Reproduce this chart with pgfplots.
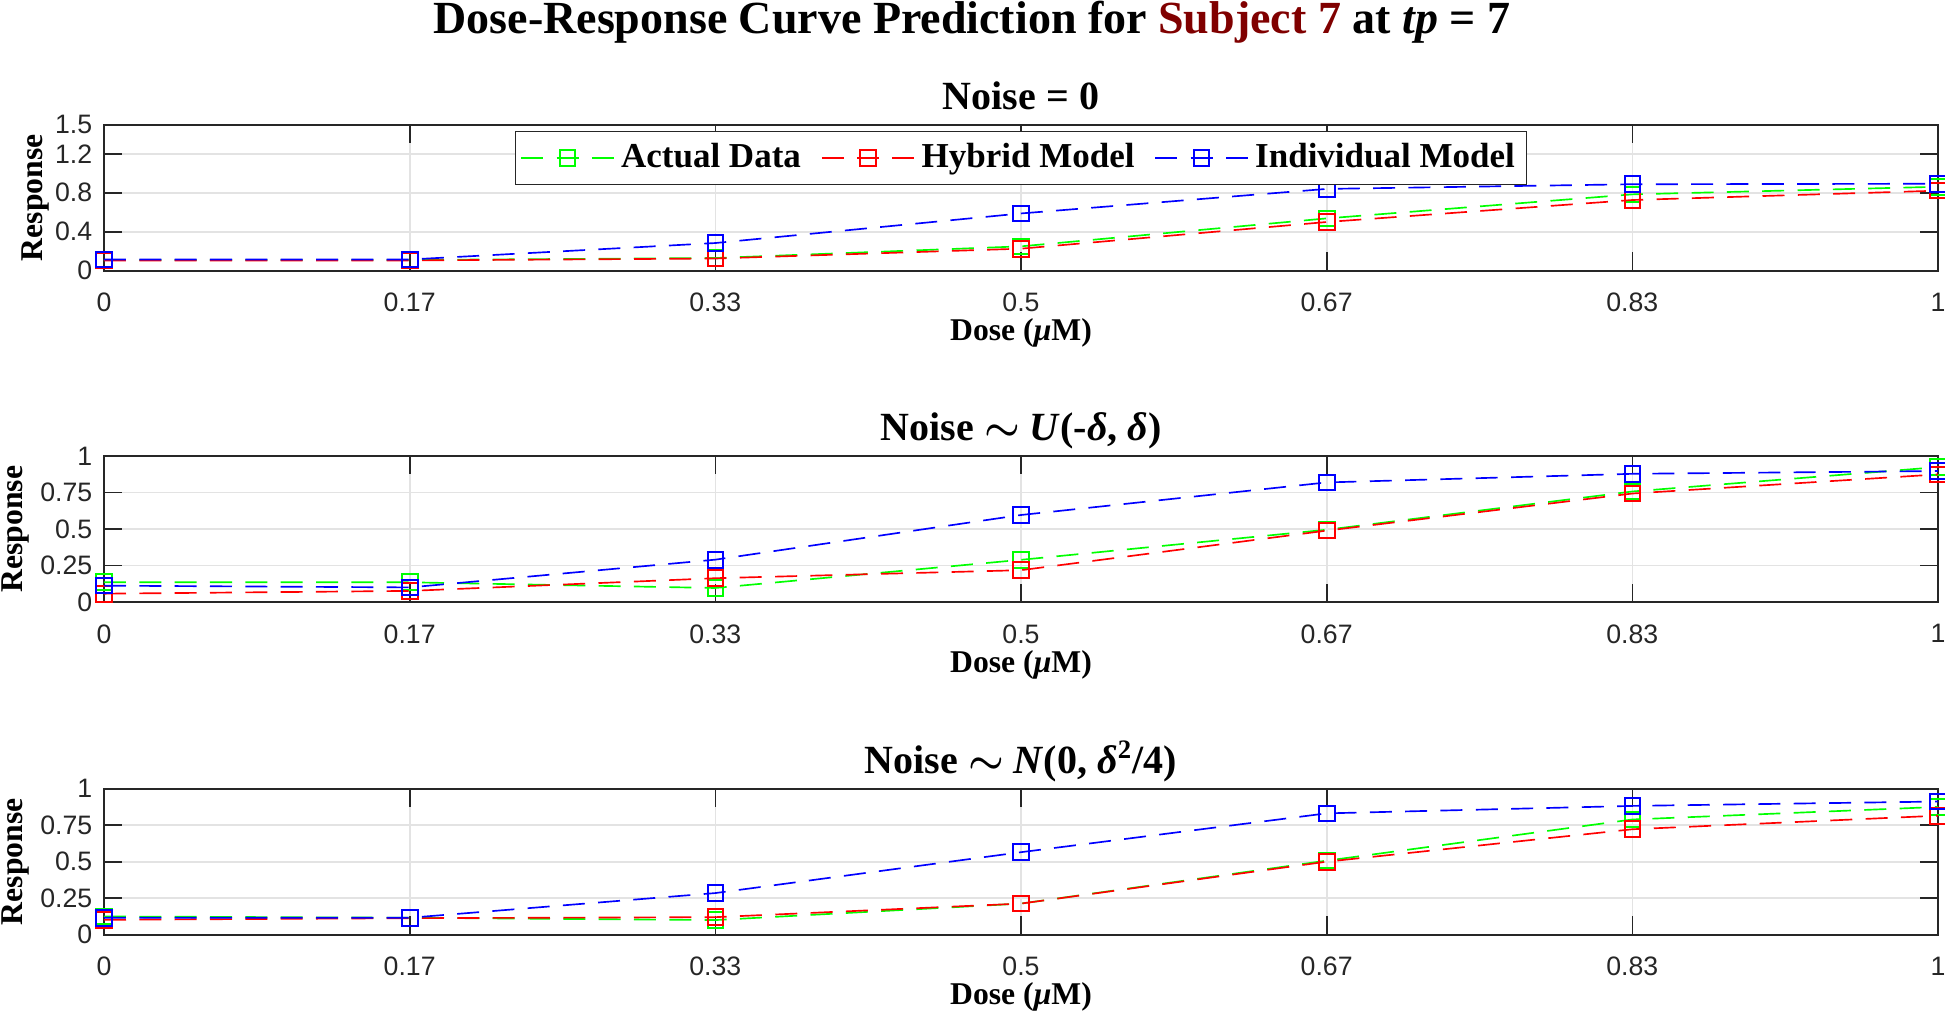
\documentclass[border=0pt]{standalone}
\usepackage{pgfplots}
\pgfplotsset{compat=1.18}
\usepackage{fontspec}
\setmainfont{Liberation Serif}
\newfontfamily\ticksans{Liberation Sans}
\definecolor{subj}{RGB}{128,0,0}
\definecolor{mgreen}{RGB}{0,255,0}
\definecolor{mred}{RGB}{255,0,0}
\definecolor{mblue}{RGB}{0,0,255}

\pgfplotsset{
  panel/.style={
    scale only axis, width=550.2pt, height=43.8pt,
    xmin=0, xmax=1,
    xtick={0,0.166667,0.333333,0.5,0.666667,0.833333,1},
    xticklabels={0,0.17,0.33,0.5,0.67,0.83,1},
    ymin=0, ymax=1,
    ytick={0,0.25,0.5,0.75,1}, yticklabels={0,0.25,0.5,0.75,1},
    grid=major, major grid style={gray!22, line width=0.5pt},
    axis line style={black!85, line width=0.6pt},
    tick style={black!85, line width=0.5pt},
    major tick length=5.5pt, minor tick length=2.75pt,
    tick align=inside,
    /pgf/number format/assume math mode=true,
    ticklabel style={font=\ticksans\fontsize{8}{9}\selectfont, text=black!85},
    xticklabel shift=3.2pt,
    xlabel={Dose (\textit{μ}M)}, ylabel={Response},
    label style={font=\bfseries\fontsize{9.5}{11}\selectfont},
    xlabel style={at={(axis description cs:0.5,-0.48)}, anchor=base},
    ylabel style={at={(axis description cs:-0.0445,0.5)}, anchor=base},
    title style={at={(axis description cs:0.5,0.968)}, anchor=base,
      font=\bfseries\boldmath\fontsize{12}{14}\selectfont},
    clip mode=individual,
    every axis plot/.append style={line width=0.5pt, dash pattern=on 6.6pt off 4pt,
      mark=square, mark size=2.35pt, mark options={solid, line width=0.6pt}},
    legend image code/.code={\draw[mark repeat=2,mark phase=2] plot coordinates {(0pt,0pt) (13.85pt,0pt) (27.7pt,0pt)};},
  }
}

\begin{document}
\begin{tikzpicture}
\path[use as bounding box] (0,0) rectangle (583.5pt,303.6pt);

\node[anchor=base, font=\bfseries\fontsize{13.8}{16}\selectfont] at (291.6pt,293.6pt)
  {Dose-Response Curve Prediction for \textcolor{subj}{Subject 7} at \textit{tp} = 7};

% Panel 1
\begin{axis}[panel, at={(31.2pt,222.4pt)}, anchor=south west,
  ymax=1.5, ytick={0,0.4,0.8,1.2,1.5}, yticklabels={0,0.4,0.8,1.2,1.5},
  minor x tick num=4,
  ylabel style={at={(axis description cs:-0.0333,0.5)}},
  title={Noise = 0},
  legend columns=3,
  legend style={at={(0.5,0.957)}, anchor=north, draw=black!85, line width=0.4pt,
    font=\bfseries\fontsize{10.5}{12}\selectfont, inner sep=1.5pt,
    /tikz/every even column/.append style={column sep=4pt}},
]
\addplot[color=mgreen] coordinates {(0,0.11) (0.166667,0.11) (0.333333,0.13) (0.5,0.25) (0.666667,0.537) (0.833333,0.784) (1,0.862)};
\addlegendentry{Actual Data}
\addplot[color=mred] coordinates {(0,0.105) (0.166667,0.105) (0.333333,0.125) (0.5,0.226) (0.666667,0.50) (0.833333,0.726) (1,0.822)};
\addlegendentry{Hybrid Model}
\addplot[color=mblue] coordinates {(0,0.115) (0.166667,0.115) (0.333333,0.284) (0.5,0.588) (0.666667,0.84) (0.833333,0.888) (1,0.893)};
\addlegendentry{Individual Model}
\end{axis}

% Panel 2
\begin{axis}[panel, at={(31.2pt,123.0pt)}, anchor=south west,
  title={Noise $\sim$ \textit{U}(-\textit{δ}, \textit{δ})},
]
\addplot[color=mgreen] coordinates {(0,0.135) (0.166667,0.135) (0.333333,0.096) (0.5,0.289) (0.666667,0.495) (0.833333,0.757) (1,0.924)};
\addplot[color=mred] coordinates {(0,0.057) (0.166667,0.076) (0.333333,0.163) (0.5,0.218) (0.666667,0.489) (0.833333,0.743) (1,0.874)};
\addplot[color=mblue] coordinates {(0,0.112) (0.166667,0.10) (0.333333,0.29) (0.5,0.596) (0.666667,0.819) (0.833333,0.878) (1,0.897)};
\end{axis}

% Panel 3
\begin{axis}[panel, at={(31.2pt,23.2pt)}, anchor=south west,
  title={Noise $\sim$ \textit{N}(0, \textit{δ}\textsuperscript{2}/4)},
]
\addplot[color=mgreen] coordinates {(0,0.125) (0.166667,0.116) (0.333333,0.10) (0.5,0.213) (0.666667,0.507) (0.833333,0.789) (1,0.875)};
\addplot[color=mred] coordinates {(0,0.102) (0.166667,0.113) (0.333333,0.12) (0.5,0.213) (0.666667,0.50) (0.833333,0.722) (1,0.815)};
\addplot[color=mblue] coordinates {(0,0.116) (0.166667,0.116) (0.333333,0.285) (0.5,0.565) (0.666667,0.831) (0.833333,0.882) (1,0.912)};
\end{axis}
\end{tikzpicture}
\end{document}
